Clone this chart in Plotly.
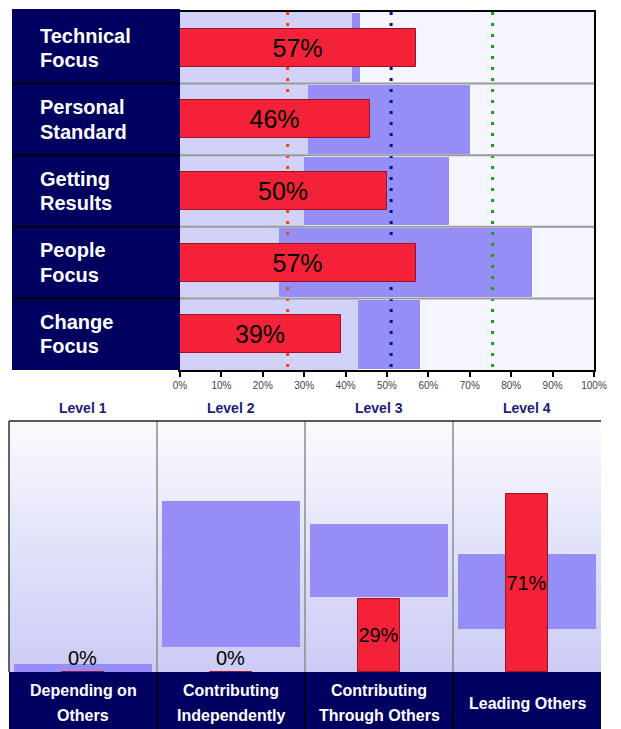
import plotly.graph_objects as go

# ---------------- data ----------------
categories = ["Technical\nFocus", "Personal\nStandard", "Getting\nResults", "People\nFocus", "Change\nFocus"]
scores = [57, 46, 50, 57, 39]
range_low = [41.5, 31, 30, 24, 43]
range_high = [43.5, 70, 65, 85, 58]
benchmarks = [26, 51, 75.5]
benchmark_colors = ["#FF3C14", "#0A0A9A", "#18A018"]
x_ticks = [0, 10, 20, 30, 40, 50, 60, 70, 80, 90, 100]
x_tick_labels = ["0%", "10%", "20%", "30%", "40%", "50%", "60%", "70%", "80%", "90%", "100%"]

levels = ["Level 1", "Level 2", "Level 3", "Level 4"]
level_names = ["Depending on\nOthers", "Contributing\nIndependently", "Contributing\nThrough Others", "Leading Others"]
level_scores = [0, 0, 29, 71]
level_low = [0, 10, 30, 17]
level_high = [3.2, 68, 59, 47]

# ---------------- helpers ----------------
# the page body adds an 8px offset, so the figure is drawn 8px smaller
OFF = 8
W, H = 621 - OFF, 729 - OFF
def px(x):
    return (x - OFF) / W
def py(y):
    return 1 - (y - OFF) / H

NAVY = "#000060"
RED = "#F42238"
RED_EDGE = "#9A1424"
RANGE = "#948EF6"
LOW_BG = "#D2D1F8"
HIGH_BG = "#F5F5FD"
FONT = "Arial, Liberation Sans, sans-serif"

ypos = list(range(len(categories)))
n = len(categories)

fig = go.Figure()

# --- top chart: background segments ---
fig.add_trace(go.Bar(
    y=ypos, x=range_low, base=[0] * n, orientation="h", width=1.0,
    marker=dict(color=LOW_BG, line=dict(width=0)), hoverinfo="skip", showlegend=False,
    xaxis="x", yaxis="y"))
fig.add_trace(go.Bar(
    y=ypos, x=[100 - h for h in range_high], base=range_high, orientation="h", width=1.0,
    marker=dict(color=HIGH_BG, line=dict(width=0)), hoverinfo="skip", showlegend=False,
    xaxis="x", yaxis="y"))
fig.add_trace(go.Bar(
    y=ypos, x=[h - l for l, h in zip(range_low, range_high)], base=range_low,
    orientation="h", width=0.96,
    marker=dict(color=RANGE, line=dict(width=0)), hoverinfo="skip", showlegend=False,
    xaxis="x", yaxis="y"))

# dotted benchmark lines
for b, c in zip(benchmarks, benchmark_colors):
    fig.add_trace(go.Scatter(
        x=[b, b], y=[-0.5, n - 0.5], mode="lines",
        line=dict(color=c, width=3, dash="3px,8px"),
        hoverinfo="skip", showlegend=False, xaxis="x", yaxis="y"))

# red score bars on overlay axes (above the dotted lines)
fig.add_trace(go.Bar(
    y=ypos, x=scores, orientation="h", width=0.53,
    marker=dict(color=RED, line=dict(color=RED_EDGE, width=1)),
    texttemplate="%{x:.0f}%", textposition="inside", insidetextanchor="middle",
    constraintext="none", textangle=0,
    textfont=dict(color="black", size=25, family=FONT),
    hoverinfo="skip", showlegend=False, xaxis="x3", yaxis="y3"))

# --- bottom chart ---
xb = list(range(len(levels)))
fig.add_trace(go.Heatmap(
    x=[-0.5, len(levels) - 0.5], y=[0, 55, 100],
    z=[[0, 0], [0.55, 0.55], [1, 1]], zsmooth="best",
    colorscale=[[0, "#CCCBF6"], [0.55, "#E4E4FA"], [1, "#FBFBFE"]],
    showscale=False, hoverinfo="skip", xaxis="x2", yaxis="y2"))
fig.add_trace(go.Bar(
    x=xb, y=[h - l for l, h in zip(level_low, level_high)], base=level_low, width=0.93,
    marker=dict(color=RANGE, line=dict(width=0)), hoverinfo="skip", showlegend=False,
    xaxis="x2", yaxis="y2"))
fig.add_trace(go.Bar(
    x=xb, y=level_scores, width=0.28,
    marker=dict(color=RED, line=dict(color=RED_EDGE, width=1)),
    texttemplate="%{y:.0f}%",
    textposition=["outside" if v == 0 else "inside" for v in level_scores],
    insidetextanchor="middle", constraintext="none", cliponaxis=False, textangle=0,
    textfont=dict(color="black", size=20, family=FONT),
    hoverinfo="skip", showlegend=False, xaxis="x2", yaxis="y2"))

shapes = []
annotations = []

# top label panel
shapes.append(dict(type="rect", xref="paper", yref="paper", x0=px(12), x1=px(180),
                   y0=py(370), y1=py(9), fillcolor=NAVY, line=dict(width=0), layer="above"))
# row separators
for i in range(n - 1):
    shapes.append(dict(type="line", xref="paper", yref="y", x0=px(180), x1=px(594),
                       y0=i + 0.5, y1=i + 0.5, line=dict(color="#9A9A9A", width=2), layer="above"))
    shapes.append(dict(type="line", xref="paper", yref="y", x0=px(12), x1=px(180),
                       y0=i + 0.5, y1=i + 0.5, line=dict(color="#000000", width=2), layer="above"))
# top labels
for i, name in enumerate(categories):
    lines = name.split("\n")
    offs = [-0.17, 0.17] if len(lines) == 2 else [0]
    for ln, off in zip(lines, offs):
        annotations.append(dict(x=px(38), xref="paper", xanchor="left", y=i + off, yref="y",
                                yanchor="middle", text="<b>%s</b>" % ln, showarrow=False,
                                font=dict(color="white", size=20, family=FONT)))

# bottom panel
shapes.append(dict(type="rect", xref="paper", yref="paper", x0=px(9), x1=px(601),
                   y0=0, y1=py(672), fillcolor=NAVY, line=dict(width=0), layer="above"))
for k in range(len(levels) - 1):
    shapes.append(dict(type="line", xref="x2", yref="paper", x0=k + 0.5, x1=k + 0.5,
                       y0=py(672), y1=py(421), line=dict(color="#8C8C8C", width=1.5), layer="above"))
    shapes.append(dict(type="line", xref="x2", yref="paper", x0=k + 0.5, x1=k + 0.5,
                       y0=0, y1=py(672), line=dict(color="#000000", width=1.5), layer="above"))
shapes.append(dict(type="line", xref="paper", yref="paper", x0=px(9), x1=px(9),
                   y0=py(672), y1=py(421), line=dict(color="#333333", width=1.5), layer="above"))
shapes.append(dict(type="line", xref="paper", yref="paper", x0=px(9), x1=px(601),
                   y0=py(421), y1=py(421), line=dict(color="#222222", width=1.5), layer="above"))

for k, (lv, nm) in enumerate(zip(levels, level_names)):
    annotations.append(dict(x=k, xref="x2", y=py(408), yref="paper", yanchor="middle",
                            text="<b>%s</b>" % lv, showarrow=False,
                            font=dict(color="#1C1C78", size=14, family=FONT)))
    lines = nm.split("\n")
    ys = [690, 715] if len(lines) == 2 else [703]
    for ln, yy in zip(lines, ys):
        annotations.append(dict(x=k, xref="x2", y=py(yy), yref="paper", yanchor="middle",
                                text="<b>%s</b>" % ln, showarrow=False,
                                font=dict(color="white", size=16, family=FONT)))

fig.update_layout(
    width=W, height=H, margin=dict(l=0, r=0, t=0, b=0, autoexpand=False),
    paper_bgcolor="white", plot_bgcolor="white",
    barmode="overlay", bargap=0, showlegend=False,
    font=dict(family=FONT),
    xaxis=dict(domain=[px(180), px(594)], range=[0, 100], anchor="y", automargin=False,
               tickvals=x_ticks, ticktext=x_tick_labels, ticks="outside", ticklen=5,
               tickcolor="black", tickwidth=1.5, showgrid=False, zeroline=False,
               showline=True, linecolor="black", linewidth=1.5, mirror=True,
               tickfont=dict(size=10, color="#444444", family=FONT), fixedrange=True),
    yaxis=dict(domain=[py(370), py(12)], range=[n - 0.5, -0.5], anchor="x", automargin=False,
               showticklabels=False, ticks="", showgrid=False, zeroline=False,
               showline=True, linecolor="black", linewidth=1.5, mirror=True, fixedrange=True),
    xaxis3=dict(overlaying="x", range=[0, 100], visible=False, anchor="y3", automargin=False),
    yaxis3=dict(overlaying="y", range=[n - 0.5, -0.5], visible=False, anchor="x3", automargin=False),
    xaxis2=dict(domain=[px(9), px(601)], range=[-0.5, len(levels) - 0.5], anchor="y2",
                visible=False, fixedrange=True, automargin=False),
    yaxis2=dict(domain=[py(672), py(421)], range=[0, 100], anchor="x2",
                visible=False, fixedrange=True, automargin=False),
    shapes=shapes, annotations=annotations,
)

fig.write_html("out.html")
